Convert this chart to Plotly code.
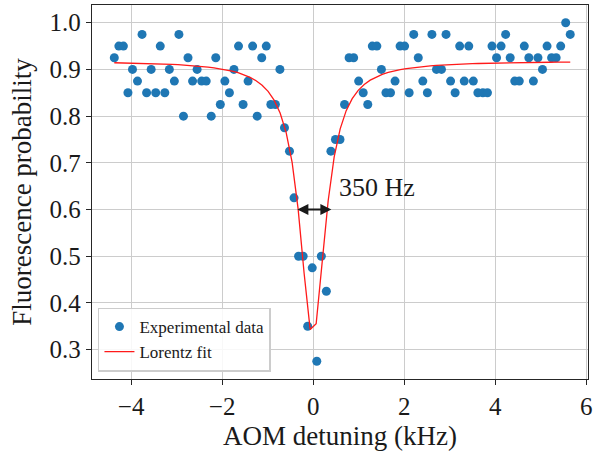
import plotly.graph_objects as go

# AOM detuning (kHz) of each measurement
detuning_khz = [
    -4.37, -4.27, -4.17, -4.07, -3.97, -3.86, -3.76, -3.66, -3.56, -3.46,
    -3.36, -3.26, -3.16, -3.05, -2.95, -2.85, -2.75, -2.65, -2.55, -2.45,
    -2.35, -2.24, -2.14, -2.04, -1.94, -1.84, -1.74, -1.64, -1.54, -1.43,
    -1.33, -1.23, -1.13, -1.03, -0.93, -0.83, -0.73, -0.63, -0.52, -0.42,
    -0.32, -0.22, -0.12, -0.02, 0.08, 0.18, 0.29, 0.39, 0.49, 0.59,
    0.69, 0.79, 0.89, 1.00, 1.10, 1.20, 1.30, 1.40, 1.50, 1.60,
    1.70, 1.80, 1.91, 2.01, 2.11, 2.21, 2.31, 2.41, 2.51, 2.61,
    2.71, 2.82, 2.92, 3.02, 3.12, 3.22, 3.32, 3.42, 3.52, 3.62,
    3.73, 3.83, 3.93, 4.03, 4.13, 4.23, 4.33, 4.43, 4.53, 4.64,
    4.74, 4.84, 4.94, 5.04, 5.14, 5.24, 5.34, 5.44, 5.55, 5.65,
]

# Measured fluorescence probability
fluorescence = [
    0.925, 0.95, 0.95, 0.85, 0.9, 0.875, 0.975, 0.85, 0.9, 0.85,
    0.95, 0.85, 0.9, 0.875, 0.975, 0.8, 0.925, 0.875, 0.9, 0.875,
    0.875, 0.8, 0.925, 0.825, 0.875, 0.85, 0.9, 0.95, 0.825, 0.875,
    0.95, 0.8, 0.925, 0.95, 0.825, 0.825, 0.9, 0.775, 0.725, 0.625,
    0.5, 0.5, 0.35, 0.475, 0.275, 0.5, 0.425, 0.725, 0.75, 0.75,
    0.825, 0.925, 0.925, 0.875, 0.85, 0.825, 0.95, 0.95, 0.9, 0.85,
    0.85, 0.875, 0.95, 0.95, 0.85, 0.975, 0.925, 0.875, 0.85, 0.975,
    0.9, 0.9, 0.975, 0.875, 0.85, 0.95, 0.875, 0.95, 0.875, 0.85,
    0.85, 0.85, 0.95, 0.925, 0.95, 0.975, 0.925, 0.875, 0.875, 0.95,
    0.925, 0.875, 0.925, 0.9, 0.95, 0.925, 0.925, 0.95, 1.0, 0.975,
]

# Lorentz fit parameters
fit_baseline = 0.918
fit_depth = 0.59
fit_hwhm_khz = 0.345
fit_center_khz = -0.01
fit_step_khz = 0.132

fit_x = [detuning_khz[0]] + [-0.066 + fit_step_khz * k for k in range(-32, 43)] + [detuning_khz[-1]]
fit_curve = [
    fit_baseline - fit_depth * fit_hwhm_khz ** 2 / ((x - fit_center_khz) ** 2 + fit_hwhm_khz ** 2)
    for x in fit_x
]

width_label = "350 Hz"
arrow_left, arrow_right, arrow_level = -0.38, 0.40, 0.60

FONT = "Liberation Serif"

fig = go.Figure()
fig.add_trace(go.Scatter(
    x=detuning_khz, y=fluorescence, mode="markers", name="Experimental data",
    marker=dict(color="#1f77b4", size=9, line=dict(width=0)),
))
fig.add_trace(go.Scatter(
    x=fit_x, y=fit_curve, mode="lines", name="Lorentz fit",
    line=dict(color="#ff1a1a", width=1.3),
))

fig.add_annotation(
    x=arrow_right, y=arrow_level, ax=arrow_left, ay=arrow_level,
    xref="x", yref="y", axref="x", ayref="y",
    text="", showarrow=True, arrowhead=2, startarrowhead=2, arrowside="end+start",
    arrowsize=1.0, startarrowsize=1.0, arrowwidth=2.2, arrowcolor="#1a1a1a",
)
fig.add_annotation(
    x=0.52, y=0.648, xref="x", yref="y", text=width_label, showarrow=False,
    xanchor="left", yanchor="middle", font=dict(family=FONT, size=26, color="#1a1a1a"),
)

axis_common = dict(
    showline=True, linecolor="#262626", linewidth=1.3, mirror=True,
    ticks="outside", ticklen=5, tickwidth=1.2, tickcolor="#262626",
    showgrid=True, gridcolor="#cccccc", gridwidth=1.4, zeroline=False,
    tickfont=dict(family=FONT, size=25, color="#1a1a1a"),
    automargin=False,
)

fig.update_layout(
    width=593, height=456,
    margin=dict(l=92, r=5, t=5, b=77),
    paper_bgcolor="white", plot_bgcolor="white",
    font=dict(family=FONT, color="#1a1a1a"),
    xaxis=dict(range=[-4.86, 6.04], tickvals=[-4, -2, 0, 2, 4, 6],
               title=dict(text="AOM detuning (kHz)", font=dict(family=FONT, size=27), standoff=6),
               **axis_common),
    yaxis=dict(range=[0.237, 1.038], tickvals=[0.3, 0.4, 0.5, 0.6, 0.7, 0.8, 0.9, 1.0],
               tickformat=".1f",
               title=dict(text="Fluorescence probability", font=dict(family=FONT, size=27), standoff=10),
               **axis_common),
    legend=dict(x=0.012, y=0.02, xanchor="left", yanchor="bottom",
                bgcolor="rgba(255,255,255,0.85)", bordercolor="#cccccc", borderwidth=1.5,
                font=dict(family=FONT, size=17, color="#1a1a1a"),
                itemwidth=30, tracegroupgap=0),
    showlegend=True,
)

fig.write_html("out.html", config={"displayModeBar": False},
               post_script="document.body.style.margin='0';document.body.style.overflow='hidden';")
